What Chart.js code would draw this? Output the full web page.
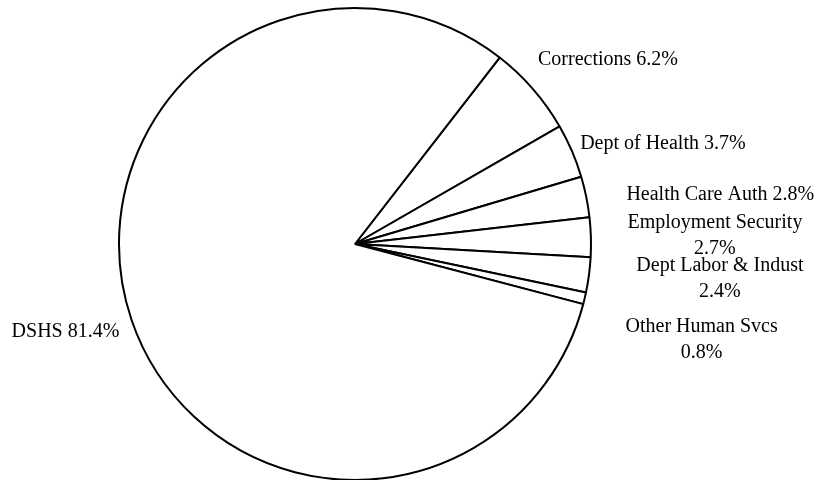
<!DOCTYPE html>
<html>
<head>
<meta charset="utf-8">
<script src="https://cdn.jsdelivr.net/npm/chart.js@4.4.1/dist/chart.umd.min.js"></script>
<style>
  html, body { margin: 0; padding: 0; background: #fff; }
  #wrap { width: 829px; height: 480px; }
</style>
</head>
<body>
<div id="wrap"><canvas id="pieChart" width="829" height="480"></canvas></div>
<script>
// Datos del gráfico
const categorias = ['Corrections', 'Dept of Health', 'Health Care Auth', 'Employment Security', 'Dept Labor & Indust', 'Other Human Svcs', 'DSHS'];
const porcentajes = [6.2, 3.7, 2.8, 2.7, 2.4, 0.8, 81.4];

// Etiquetas partidas en dos líneas (nombre / porcentaje)
const enDosLineas = [false, false, false, true, true, true, false];
// Desplazamiento de cada etiqueta desde el borde del sector (px)
const desplazamiento = [[75, -29], [91, -7], [134, -2], [124, -2], [131, 4], [117, 41], [-66, 12]];

const etiquetasPlugin = {
  id: 'etiquetas',
  afterDatasetsDraw(chart) {
    const ctx = chart.ctx;
    const meta = chart.getDatasetMeta(0);
    ctx.save();
    ctx.font = '20px "Liberation Serif", "Times New Roman", serif';
    ctx.fillStyle = '#000';
    ctx.textAlign = 'center';
    ctx.textBaseline = 'middle';
    meta.data.forEach((arco, i) => {
      const mid = (arco.startAngle + arco.endAngle) / 2;
      const ax = arco.x + Math.cos(mid) * arco.outerRadius + desplazamiento[i][0];
      const ay = arco.y + Math.sin(mid) * arco.outerRadius + desplazamiento[i][1];
      const valor = porcentajes[i].toFixed(1) + '%';
      if (enDosLineas[i]) {
        ctx.fillText(categorias[i], ax, ay - 13);
        ctx.fillText(valor, ax, ay + 13);
      } else {
        ctx.fillText(categorias[i] + ' ' + valor, ax, ay);
      }
    });
    ctx.restore();
  }
};

const ctx = document.getElementById('pieChart').getContext('2d');
new Chart(ctx, {
  type: 'pie',
  data: {
    labels: categorias,
    datasets: [{
      data: porcentajes,
      backgroundColor: '#ffffff',
      borderColor: '#000000',
      borderWidth: 2,
      hoverOffset: 0
    }]
  },
  options: {
    responsive: false,
    animation: false,
    rotation: 37.8,
    radius: 236,
    layout: { padding: { left: 0, right: 119, top: 8, bottom: 0 } },
    events: [],
    plugins: {
      legend: { display: false },
      tooltip: { enabled: false }
    }
  },
  plugins: [etiquetasPlugin]
});
</script>
</body>
</html>
